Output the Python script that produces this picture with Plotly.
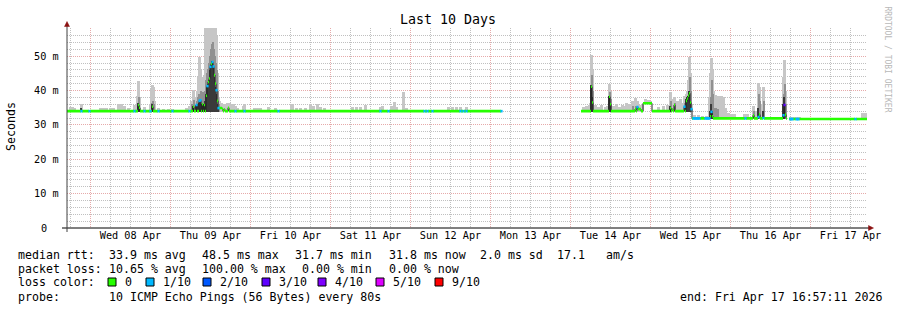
import numpy as np
import pandas as pd
import plotly.graph_objects as go

END = pd.Timestamp("2026-04-17 16:57:11")
START = END - pd.Timedelta(days=10)
STEP_H = 0.3          # hours per consolidated step
N_STEPS = 800

# ---------------- data (hours from START, values in ms) ----------------
seg_start = [0.0, 154.2, 172.8, 175.5, 187.5, 216.6]
seg_end = [130.5, 172.8, 175.5, 187.5, 216.0, 240.0]
seg_median = [34.0, 34.0, 36.3, 34.0, 31.9, 31.7]

spike_hour = [21.3, 21.6, 25.5, 37.8, 38.7, 39.6, 39.9, 40.5, 41.1, 41.7, 42.0, 42.3,
              42.6, 42.9, 43.2, 43.5, 43.8, 44.1, 44.4, 44.7, 45.0, 45.3, 45.6, 45.9,
              46.2, 46.5, 47.1, 48.3,
              157.2, 157.5, 162.6, 162.9, 170.4, 171.0, 171.3, 171.6, 171.9, 180.9,
              181.5, 182.1, 185.1, 185.7, 186.0, 186.3, 186.6, 186.9, 187.2, 192.9,
              193.2, 193.5, 205.8, 207.3, 207.6, 208.8, 214.8, 215.1, 215.4]
spike_median = [35.8, 35.0, 35.3, 35.3, 35.8, 37.0, 37.2, 36.0, 35.8, 38.5, 41.3, 42.5,
                43.5, 46.9, 47.8, 48.3, 47.0, 44.5, 42.0, 40.1, 37.0, 34.9, 34.9, 34.9,
                34.9, 34.7, 34.5, 35.0,
                41.1, 36.5, 38.2, 36.0, 34.6, 35.2, 34.6, 34.6, 34.6, 34.9,
                34.5, 35.8, 35.3, 37.0, 37.7, 38.5, 39.2, 36.5, 34.6, 32.5,
                33.8, 32.5, 32.8, 32.3, 33.0, 32.0, 32.8, 35.8, 33.0]

loss1_hour = [4.2, 6.6, 20.1, 23.1, 24.9, 27.3, 31.5, 36.6, 38.7, 39.6, 39.9, 42.0,
              42.9, 43.5, 43.8, 44.7, 45.3, 50.4, 53.1, 63.3, 93.9, 96.3, 107.1, 108.0,
              109.5, 117.9, 118.8, 119.7, 130.2,
              171.0, 185.1, 187.2, 187.8, 188.1, 188.4, 188.7, 189.0, 189.3, 189.6,
              191.4, 191.7, 192.0, 192.3, 192.6, 193.2, 203.4, 207.3, 208.8, 214.8,
              216.9, 217.2, 217.5, 218.7, 219.0, 219.3, 236.4]
loss3_hour = [215.1]

smoke_hour = [0.9, 1.5, 2.1, 4.2, 9.9, 10.8, 11.7, 12.9, 13.8, 15.3, 16.2, 17.1, 18.3,
              20.1, 21.0, 21.3, 21.6, 23.1, 24.9, 25.2, 25.5, 25.8, 26.1, 27.3, 28.8,
              30.3, 31.5, 35.7, 36.6, 37.2, 37.8, 38.1, 38.7, 39.0, 39.3, 39.6, 39.9,
              40.2, 40.5, 40.8, 41.1, 41.4, 41.7, 42.0, 42.3, 42.6, 42.9, 43.2, 43.5,
              43.8, 44.1, 44.4, 44.7, 45.0, 45.3, 45.6, 45.9, 46.2, 46.8, 47.4, 48.0,
              48.6, 49.2, 49.8, 50.4, 51.0, 52.8, 53.1, 56.1, 57.0, 57.9, 60.3, 62.4,
              67.2, 67.5, 68.7, 69.9, 71.4, 72.9, 73.8, 75.0, 75.9, 77.1, 85.5, 86.7,
              87.9, 89.4, 93.9, 94.5, 97.2, 98.1, 98.7, 100.8, 101.7, 114.3, 115.5,
              116.7, 117.9, 119.7,
              154.8, 155.7, 156.6, 156.9, 157.2, 157.5, 158.4, 159.3, 160.2, 161.4,
              162.0, 162.6, 162.9, 163.8, 164.7, 165.6, 166.5, 167.1, 167.7, 168.6,
              169.5, 170.1, 170.4, 171.0, 171.9, 172.5, 173.4, 174.3, 174.9, 177.3,
              178.8, 180.0, 180.9, 181.5, 182.1, 182.7, 183.0, 183.9, 184.5, 185.1,
              185.4, 185.7, 186.0, 186.3, 186.6, 186.9, 187.2, 188.1, 189.3, 190.5,
              191.7, 192.6, 192.9, 193.2, 193.5, 193.8, 194.4, 195.0, 195.6, 196.2,
              196.8, 197.4, 198.3, 199.2, 200.1, 203.1, 204.0, 205.8, 206.4, 207.3,
              207.6, 208.5, 208.8, 210.3, 211.5, 212.7, 213.9, 214.8, 215.1, 215.4,
              216.9, 217.8, 218.7, 219.6, 238.5, 239.4]
N = np.nan
smoke_max = [35.3, 35.3, 35.0, 36.0, 34.8, 34.8, 34.8, 34.8, 34.8, 36.0, 36.0, 35.5, 34.8,
             35.7, 38.5, 42.7, 38.0, 35.3, 36.0, 40.5, 41.5, 41.0, 37.0, 35.0, 34.6,
             34.6, 34.6, 35.0, 35.5, 37.0, 40.1, 38.0, 38.2, 40.0, 44.0, 49.8, 46.0,
             44.0, 43.6, 44.0, 44.5, 58.5, 58.5, 58.5, 58.5, 58.5, 58.5, 58.5, 58.5,
             58.5, 58.5, 58.5, 56.0, 45.0, 38.2, 37.0, 36.5, 36.5, 36.0, 36.0, 36.5,
             36.5, 36.0, 36.0, 35.5, 35.0, 35.5, 36.2, 35.0, 35.0, 35.0, 35.2, 35.0,
             36.2, 36.2, 35.0, 35.0, 35.0, 36.2, 35.5, 36.0, 35.2, 35.0, 35.3, 35.3,
             35.3, 35.7, 35.3, 35.6, 35.5, 36.7, 35.3, 39.6, 35.0, 35.2, 35.2,
             35.2, 35.3, 35.2,
             35.2, 35.5, 35.8, 36.5, 50.3, 46.0, 35.8, 35.3, 35.8, 35.3,
             35.5, 41.8, 40.0, 35.5, 36.0, 35.3, 35.8, 35.5, 36.5, 36.0,
             37.0, 36.5, 37.9, 37.0, 35.8, 36.0, 37.5, 37.3, 37.0, 35.3,
             35.5, 35.8, 39.6, 37.5, 38.0, 37.0, 37.0, 37.5, 36.5, 38.5,
             38.0, 39.0, 40.0, 43.0, 49.8, 45.0, 36.0, 32.8, 32.8, 32.6,
             32.6, 38.0, 45.0, 49.4, 46.0, 40.0, 38.7, 38.5, 38.5, 38.5,
             38.0, 35.0, 33.5, 33.1, 33.1, 33.2, 33.2, 35.5, 34.0, 42.1,
             41.0, 36.0, 41.1, 32.4, 32.4, 32.4, 32.4, 44.0, 48.8, 40.0,
             32.4, 32.4, 32.4, 32.4, 33.6, 33.6]
smoke_mid = [N, N, N, N, N, N, N, N, N, N, N, N, N,
             N, 36.0, 38.0, N, N, N, 36.5, 37.0, 36.0, N, N, N,
             N, N, N, N, 36.0, 37.2, N, 37.0, 38.0, 39.0, 38.6, 40.0,
             39.5, 39.0, 39.5, 40.0, 43.0, 45.0, 46.4, 48.0, 50.0, 52.2, 53.5, 54.2,
             52.0, 50.0, 48.0, 46.0, 40.0, 36.0, N, N, N, N, N, N,
             N, N, N, N, N, N, N, N, N, N, N, N,
             N, N, N, N, N, N, N, N, N, N, N, N,
             N, N, N, N, N, N, N, N, N, N, N,
             N, N, N,
             N, N, N, N, 44.5, 40.0, N, N, N, N,
             N, 39.5, 37.5, N, N, N, N, N, N, N,
             35.5, N, 35.5, N, N, N, N, N, N, N,
             N, N, 37.0, N, 36.5, N, N, N, N, 36.5,
             N, 38.0, 38.5, 39.5, 44.0, 40.0, N, N, N, N,
             N, 34.0, 38.0, 43.0, 39.0, 35.0, 35.0, 34.5, N, N,
             N, N, N, N, N, N, N, 34.0, N, 39.0,
             37.0, N, 37.0, N, N, N, N, 39.0, 42.0, 36.0,
             N, N, N, N, N, N]
smoke_dark = [N, N, N, 35.0, N, N, N, N, N, N, N, N, N,
              N, N, 36.5, 35.5, N, N, N, 36.0, N, N, N, N,
              N, N, N, N, N, 35.5, N, 35.8, N, 36.0, 36.5, 37.0,
              36.0, 36.0, 36.0, 36.0, 37.0, 39.0, 41.0, 42.0, 43.0, 46.0, 47.5, 48.5,
              47.0, 44.0, 41.0, 39.0, 36.0, 35.0, N, N, N, N, N, N,
              N, N, N, N, N, N, N, N, N, N, N, N,
              N, N, N, N, N, N, N, N, N, N, N, N,
              N, N, N, N, N, N, N, N, N, N, N,
              N, N, N,
              N, N, N, N, 41.5, 38.0, N, N, N, N,
              N, 38.5, 36.5, N, N, N, N, N, N, N,
              N, N, N, N, N, N, N, N, N, N,
              N, N, 35.5, N, N, N, N, N, N, N,
              N, 37.5, 38.0, 38.5, 40.0, 37.0, N, N, N, N,
              N, N, 34.0, 36.0, 34.0, N, N, N, N, N,
              N, N, N, N, N, N, N, N, N, 35.0,
              N, N, 34.0, N, N, N, N, 36.0, 38.0, N,
              N, N, N, N, N, N]

y_tick_vals = [0, 10, 20, 30, 40, 50]
y_tick_text = ["0\u00a0\u00a0", "10 m", "20 m", "30 m", "40 m", "50 m"]

loss_levels = ["0", "1/10", "2/10", "3/10", "4/10", "5/10", "9/10"]
loss_colors = ["#26ff00", "#00b8ff", "#0059ff", "#5e00ff", "#7e00ff", "#dd00ff", "#ff0000"]

stat_median = ["33.9 ms avg", "48.5 ms max", "31.7 ms min", "31.8 ms now", "2.0 ms sd", "17.1", "am/s"]
stat_loss = ["10.65 % avg", "100.00 % max", "0.00 % min", "0.00 % now"]
probe_text = "10 ICMP Echo Pings (56 Bytes) every 80s"
end_text = "end: Fri Apr 17 16:57:11 2026"

# ---------------- build per-step series ----------------
med = np.full(N_STEPS, np.nan)
base = np.full(N_STEPS, np.nan)
loss = np.zeros(N_STEPS, dtype=int)
for s, e, m in zip(seg_start, seg_end, seg_median):
    i0 = int(round(s / STEP_H)); i1 = int(round(e / STEP_H))
    med[i0:i1] = m
    base[i0:i1] = m
idx = lambda h: min(N_STEPS - 1, int(round(h / STEP_H)))
for h, m in zip(spike_hour, spike_median):
    med[idx(h)] = m
for h in loss1_hour:
    loss[idx(h)] = 1
for h in loss3_hour:
    loss[idx(h)] = 3

sm_hi = np.full(N_STEPS, np.nan); sm_mid = np.full(N_STEPS, np.nan); sm_dk = np.full(N_STEPS, np.nan)
for h, a, b, c in zip(smoke_hour, smoke_max, smoke_mid, smoke_dark):
    i = idx(h)
    sm_hi[i] = a; sm_mid[i] = b; sm_dk[i] = c

tcol = lambda i: START + pd.Timedelta(hours=i * STEP_H)
t_start = [tcol(i) for i in range(N_STEPS)]
t_mid = [tcol(i + 0.5) for i in range(N_STEPS)]
COL_MS = STEP_H * 3600 * 1000

fig = go.Figure()
sbase = base - 0.3
for arr, col, wf in [(sm_hi, "#c6c6c6", 2.4), (sm_mid, "#909090", 2.0), (sm_dk, "#3a3a3a", 1.3)]:
    fig.add_trace(go.Bar(x=t_mid, y=arr - sbase, base=sbase, width=COL_MS * wf,
                         marker=dict(color=col, line=dict(width=0)), hoverinfo="skip"))

# dark median line
fig.add_trace(go.Scatter(x=t_start + [END], y=list(med) + [med[-1]], mode="lines",
                         line=dict(color="#202020", width=1, shape="hv"), hoverinfo="skip"))

# loss-coloured median band, one trace per loss level
lvl_map = {0: 0, 1: 1, 2: 2, 3: 3, 4: 4, 5: 5, 9: 6}
for lv, code in [(0, 0), (1, 1), (3, 3)]:
    xs, ys = [], []
    ext = 0.0 if lv == 0 else 0.6
    for i in range(N_STEPS):
        if np.isnan(med[i]) or loss[i] != lv:
            continue
        xs += [tcol(i - ext), tcol(i + 1 + ext), None]
        ys += [med[i], med[i], None]
    fig.add_trace(go.Scatter(x=xs, y=ys, mode="lines", connectgaps=False,
                             line=dict(color=loss_colors[lvl_map[code]], width=2.6),
                             hoverinfo="skip"))

MONO = "DejaVu Sans Mono"
L, R, T, B = 67, 30, 28, 82
PW, PH = 897 - L - R, 310 - T - B
px = lambda x: (x - L) / PW
py = lambda y: (228 - y) / PH

ann = []
def txt(x, y, s, size=11.6, anchor="left", color="black", angle=0):
    ann.append(dict(x=px(x), y=py(y), xref="paper", yref="paper", text=s, showarrow=False,
                    xanchor=anchor, yanchor="middle", textangle=angle,
                    font=dict(family=MONO, size=size, color=color)))

# y tick labels (right-aligned just left of the axis)
for v, s in zip(y_tick_vals, y_tick_text):
    ann.append(dict(x=px(60.5), y=v, xref="paper", yref="y", text=s, showarrow=False,
                    xanchor="right", yanchor="middle",
                    font=dict(family=MONO, size=10.2, color="black")))

txt(448, 19, "Last 10 Days", size=13.3, anchor="center")
txt(11, 126, "Seconds", anchor="center", angle=-90)
txt(887.5, 59, "RRDTOOL / TOBI OETIKER", size=8, anchor="center", color="#b8b8b8", angle=90)

txt(16, 255, "median rtt:")
for xx, s in zip([107, 200, 293, 387, 478, 555, 604], stat_median):
    txt(xx, 255, s)
txt(16, 268.5, "packet loss:")
for xx, s in zip([107, 200, 300, 387], stat_loss):
    txt(xx, 268.5, s)
txt(16, 282, "loss color:")
box_x = [108, 146, 203, 262, 318, 376, 435]
shapes = []
for bx, lab, col in zip(box_x, loss_levels, loss_colors):
    shapes.append(dict(type="rect", xref="paper", yref="paper", x0=px(bx), x1=px(bx + 8),
                       y0=py(286), y1=py(278), fillcolor=col, line=dict(color="black", width=1)))
    txt(bx + 15, 282, lab)
txt(16, 296.5, "probe:")
txt(107, 296.5, probe_text)
txt(678, 296.5, end_text)

# axes lines & arrows
shapes += [
    dict(type="line", xref="paper", yref="paper", x0=px(62), x1=px(869), y0=py(228), y1=py(228),
         line=dict(color="black", width=1)),
    dict(type="line", xref="paper", yref="paper", x0=px(67), x1=px(67), y0=py(232), y1=py(25),
         line=dict(color="#404040", width=1)),
    dict(type="path", xref="paper", yref="paper",
         path=f"M {px(64.5)} {py(26.5)} L {px(69.5)} {py(26.5)} L {px(67)} {py(21.5)} Z",
         fillcolor="#8b1010", line=dict(color="#8b1010", width=0.5)),
    dict(type="path", xref="paper", yref="paper",
         path=f"M {px(868.5)} {py(225.5)} L {px(868.5)} {py(230.5)} L {px(873.5)} {py(228)} Z",
         fillcolor="#8b1010", line=dict(color="#8b1010", width=0.5)),
]

MAJ = "#e6aaaa"
MIN = "#c0c0c0"
fig.update_layout(
    width=897, height=310, margin=dict(l=L, r=R, t=T, b=B),
    paper_bgcolor="white", plot_bgcolor="white", showlegend=False,
    barmode="overlay", bargap=0,
    annotations=ann, shapes=shapes,
    xaxis=dict(type="date", range=[START, END], showgrid=True, gridcolor=MAJ, griddash="1px,1px",
               gridwidth=1, tick0="2026-04-08", dtick=86400000, tickformat="%a %d %b",
               ticklabelmode="period", ticks="", showline=False, zeroline=False,
               tickfont=dict(family=MONO, size=10.2, color="black"),
               minor=dict(dtick=6 * 3600000, tick0="2026-04-08", showgrid=True,
                          gridcolor=MIN, griddash="1px,1px", gridwidth=1)),
    yaxis=dict(range=[0, 58.2], tickvals=y_tick_vals, showticklabels=False,
               showgrid=True, gridcolor=MAJ, griddash="1px,1px", gridwidth=1,
               ticks="", showline=False, zeroline=False,
               minor=dict(dtick=2, tick0=0, showgrid=True, gridcolor=MIN,
                          griddash="1px,1px", gridwidth=1)),
)
fig.write_html("out.html")
